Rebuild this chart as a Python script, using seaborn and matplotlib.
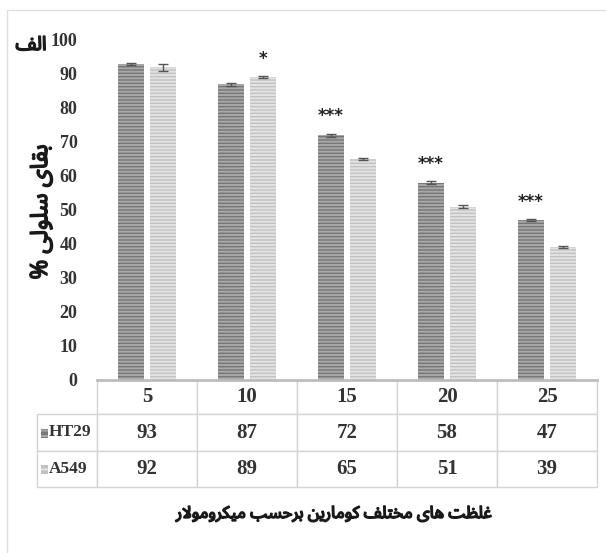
import pandas as pd
import matplotlib
matplotlib.use("Agg")
import matplotlib.pyplot as plt
import matplotlib.patheffects as pe
from matplotlib.patches import Rectangle
from matplotlib.table import Table
import seaborn as sns

# Cell viability (%) of two cell lines at increasing coumarin concentrations (µM)
concentrations = ["5", "10", "15", "20", "25"]
cell_lines = ["HT29", "A549"]
ht29 = [93, 87, 72, 58, 47]
a549 = [92, 89, 65, 51, 39]
ht29_err = [0.3, 0.4, 0.5, 0.4, 0.3]
a549_err = [1.0, 0.3, 0.3, 0.5, 0.3]
ht29_sig = ["", "", "***", "***", "***"]
a549_sig = ["", "*", "", "", ""]
y_ticks = [0, 10, 20, 30, 40, 50, 60, 70, 80, 90, 100]

panel_label = "الف"
y_title = "بقای سلولی %"
x_title = "غلظت های مختلف کومارین برحسب میکرومولار"

# Minimal contextual shaping for the Persian labels (matplotlib has no text shaping)
FORMS = {
    "ا": ("\uFE8D", "\uFE8E", None, None),
    "ب": ("\uFE8F", "\uFE90", "\uFE91", "\uFE92"),
    "ت": ("\uFE95", "\uFE96", "\uFE97", "\uFE98"),
    "ح": ("\uFEA1", "\uFEA2", "\uFEA3", "\uFEA4"),
    "خ": ("\uFEA5", "\uFEA6", "\uFEA7", "\uFEA8"),
    "ر": ("\uFEAD", "\uFEAE", None, None),
    "س": ("\uFEB1", "\uFEB2", "\uFEB3", "\uFEB4"),
    "ظ": ("\uFEC5", "\uFEC6", "\uFEC7", "\uFEC8"),
    "غ": ("\uFECD", "\uFECE", "\uFECF", "\uFED0"),
    "ف": ("\uFED1", "\uFED2", "\uFED3", "\uFED4"),
    "ق": ("\uFED5", "\uFED6", "\uFED7", "\uFED8"),
    "ک": ("\uFB8E", "\uFB8F", "\uFB90", "\uFB91"),
    "ل": ("\uFEDD", "\uFEDE", "\uFEDF", "\uFEE0"),
    "م": ("\uFEE1", "\uFEE2", "\uFEE3", "\uFEE4"),
    "ن": ("\uFEE5", "\uFEE6", "\uFEE7", "\uFEE8"),
    "ه": ("\uFEE9", "\uFEEA", "\uFEEB", "\uFEEC"),
    "و": ("\uFEED", "\uFEEE", None, None),
    "ی": ("\uFBFC", "\uFBFD", "\uFBFE", "\uFBFF"),
}


def joins_forward(c):
    return c in FORMS and FORMS[c][2] is not None


def shape(text):
    out = []
    i = 0
    while i < len(text):
        c = text[i]
        prev_join = i > 0 and joins_forward(text[i - 1])
        if c == "ل" and i + 1 < len(text) and text[i + 1] == "ا":
            out.append("\uFEFC" if prev_join else "\uFEFB")
            i += 2
            continue
        if c not in FORMS:
            out.append(c)
            i += 1
            continue
        iso, fin, ini, med = FORMS[c]
        next_join = ini is not None and i + 1 < len(text) and text[i + 1] in FORMS
        if prev_join and next_join:
            out.append(med)
        elif prev_join:
            out.append(fin)
        elif next_join:
            out.append(ini)
        else:
            out.append(iso)
        i += 1
    return "".join(reversed(out))


sns.set_theme(style="white")
plt.rcParams["font.family"] = ["Liberation Serif", "DejaVu Sans"]
persian_fonts = ["Noto Sans Arabic", "DejaVu Sans"]
heavy = [pe.withStroke(linewidth=1.1, foreground="#1a1a1a")]

ht_face, ht_stripe = "#767676", "#a8a8a8"
a_face, a_stripe = "#c2c2c2", "#e2e2e2"
text_col = "#333333"
grid_col = "#d4d4d4"
plt.rcParams["hatch.linewidth"] = 1.4

W, H = 606, 553
fig = plt.figure(figsize=(W / 100, H / 100), dpi=100)
fig.patch.set_facecolor("white")
ax_left, ax_right, ax_top, ax_bottom = 97, 597, 40, 380
ax = fig.add_axes([ax_left / W, 1 - ax_bottom / H,
                   (ax_right - ax_left) / W, (ax_bottom - ax_top) / H])

df = pd.DataFrame({
    "concentration": concentrations * 2,
    "viability": ht29 + a549,
    "line": ["HT29"] * len(ht29) + ["A549"] * len(a549),
})
sns.barplot(data=df, x="concentration", y="viability", hue="line",
            order=concentrations, hue_order=cell_lines,
            palette=[ht_face, a_face], width=0.64, gap=0.16,
            errorbar=None, legend=False, ax=ax)

series = [(ht29_err, ht29_sig, ht_stripe), (a549_err, a549_sig, a_stripe)]
for container, (errs, sigs, stripe) in zip(ax.containers, series):
    for bar, err, sig in zip(container.patches, errs, sigs):
        bar.set_hatch("-----")
        bar.set_edgecolor(stripe)
        bar.set_linewidth(0)
        xc = bar.get_x() + bar.get_width() / 2
        val = bar.get_height()
        ax.errorbar(xc, val, yerr=err, fmt="none", ecolor="#555555",
                    elinewidth=1, capsize=3.5, capthick=1)
        if sig:
            ax.text(xc, val + err + 5, sig, ha="center", va="center",
                    fontsize=12, fontweight="bold", color="#222222",
                    family="DejaVu Sans")

ax.set_ylim(0, 100)
ax.set_xlim(-0.5, len(concentrations) - 0.5)
ax.set_yticks(y_ticks)
ax.set_yticklabels([str(t) for t in y_ticks], fontsize=13,
                   fontweight="bold", color=text_col)
ax.tick_params(axis="y", length=0, pad=14)
ax.set_xticks([])
ax.set_xlabel("")
ax.set_ylabel("")
for side in ["top", "right", "left"]:
    ax.spines[side].set_visible(False)
ax.spines["bottom"].set_color("#bdbdbd")
ax.spines["bottom"].set_linewidth(2)

# Data table beneath the bars
col_w = [60] + [100] * len(concentrations)
row_h = [34, 37, 36]
span_w = ax_right - ax_left
tbl = Table(ax, bbox=[-60 / span_w, -sum(row_h) / (ax_bottom - ax_top),
                      sum(col_w) / span_w, sum(row_h) / (ax_bottom - ax_top)])
tbl.auto_set_font_size(False)
tbl.add_cell(0, 0, col_w[0], row_h[0], text="", loc="center").visible_edges = "open"
for j, c in enumerate(concentrations, start=1):
    tbl.add_cell(0, j, col_w[j], row_h[0], text=c, loc="center")
label_cells = []
for i, (name, vals) in enumerate([("HT29", ht29), ("A549", a549)], start=1):
    cell = tbl.add_cell(i, 0, col_w[0], row_h[i], text=name, loc="left")
    cell.PAD = 0.2
    label_cells.append(cell)
    for j, v in enumerate(vals, start=1):
        tbl.add_cell(i, j, col_w[j], row_h[i], text=str(v), loc="center")
for cell in tbl.get_celld().values():
    cell.set_edgecolor(grid_col)
    cell.set_linewidth(1)
    cell.get_text().set_fontsize(15)
    cell.get_text().set_fontweight("bold")
    cell.get_text().set_color(text_col)
for cell in label_cells:
    cell.get_text().set_fontsize(12.5)
ax.add_table(tbl)

# Legend keys inside the row-label cells
row_mid = [380 + row_h[0] + row_h[1] / 2, 380 + row_h[0] + row_h[1] + row_h[2] / 2]
for ym, face, stripe in zip(row_mid, [ht_face, a_face], [ht_stripe, a_stripe]):
    key = Rectangle((41 / W, 1 - (ym + 5) / H), 7 / W, 9 / H,
                    transform=fig.transFigure, facecolor=face,
                    edgecolor=stripe, hatch="---", linewidth=0)
    fig.add_artist(key)

fig.text(31 / W, 1 - 45 / H, shape(panel_label), ha="center", va="center",
         fontsize=14, fontweight="bold", color="#1a1a1a", family=persian_fonts,
         path_effects=heavy)
fig.text(41 / W, 1 - 212 / H, shape(y_title), ha="center", va="center",
         rotation=90, fontsize=17, fontweight="bold", color="#1a1a1a",
         family=persian_fonts, path_effects=heavy)
fig.text(334 / W, 1 - 514 / H, shape(x_title), ha="center", va="center",
         fontsize=12, fontweight="bold", color="#1a1a1a", family=persian_fonts,
         path_effects=heavy)

frame = Rectangle((7 / W, -0.02), 1.0, 1.02 - 10 / H, transform=fig.transFigure,
                  fill=False, edgecolor="#e0e0e0", linewidth=1)
fig.add_artist(frame)

fig.savefig("out.png", dpi=100, facecolor="white")
